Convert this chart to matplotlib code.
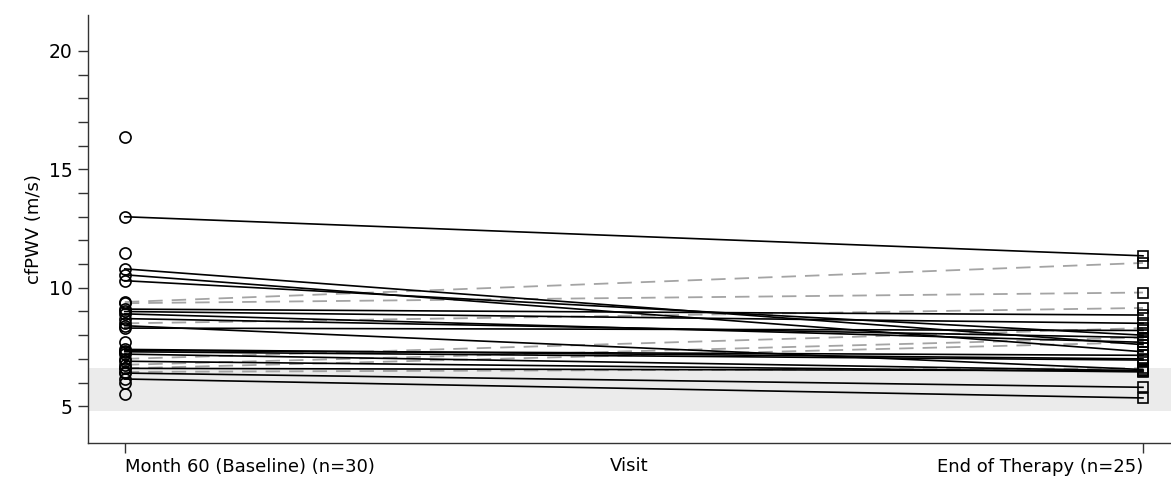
import matplotlib.pyplot as plt
import numpy as np

# cfPWV (m/s) per patient, baseline -> end of therapy (paired)
solid_base = [13.0, 10.8, 10.55, 10.3, 9.1, 9.0, 8.9, 8.7, 8.4, 8.3,
              7.4, 7.35, 7.3, 7.2, 6.9, 6.6, 6.4, 6.15]
solid_end = [11.35, 7.6, 7.3, 8.0, 8.85, 8.5, 7.7, 7.9, 6.55, 8.2,
             7.0, 7.15, 6.95, 6.5, 6.45, 6.5, 5.8, 5.35]
dashed_base = [9.4, 9.35, 8.5, 7.0, 6.75, 6.6, 6.45]
dashed_end = [11.05, 9.8, 9.15, 8.3, 7.9, 7.7, 6.6]
# baseline only (no end of therapy visit)
base_only = [16.35, 11.45, 7.7, 6.0, 5.5]

tick_labels = ['Month 60 (Baseline) (n=30)', 'End of Therapy (n=25)']
ref_band = (4.8, 6.6)


def main():
    plt.rcParams['font.family'] = ['DejaVu Sans']

    fig = plt.figure(figsize=(11.71, 4.82), dpi=100)
    ax = fig.add_axes([0.075, 0.081, 0.925, 0.888])

    ax.axhspan(ref_band[0], ref_band[1], color='#ebebeb', lw=0, zorder=0)

    for b, e in zip(dashed_base, dashed_end):
        ax.plot([0, 1], [b, e], color='#a4a4a4', lw=1.3, dashes=(8, 5), zorder=2)
    for b, e in zip(solid_base, solid_end):
        ax.plot([0, 1], [b, e], color='black', lw=1.2, zorder=3)

    all_base = solid_base + dashed_base + base_only
    all_end = solid_end + dashed_end
    ax.plot(np.zeros(len(all_base)), all_base, 'o', ms=8, mfc='none', mec='black',
            mew=1.2, zorder=4)
    ax.plot(np.ones(len(all_end)), all_end, 's', ms=7.5, mfc='none', mec='black',
            mew=1.2, zorder=4)

    ax.set_xlim(-0.0363, 1.0275)
    ax.set_ylim(3.45, 21.52)
    ax.set_xticks([0, 1])
    ax.set_xticklabels(tick_labels, fontsize=13)
    xt = ax.get_xticklabels()
    xt[0].set_ha('left')
    xt[1].set_ha('right')
    ax.set_yticks(range(5, 21))
    ax.set_yticklabels([str(v) if v % 5 == 0 else '' for v in range(5, 21)], fontsize=13.5)
    ax.tick_params(length=7.5, width=1, color='#333333')
    ax.set_ylabel('cfPWV (m/s)', fontsize=13)
    ax.set_xlabel('Visit', fontsize=13, labelpad=-14)

    for side in ['top', 'right']:
        ax.spines[side].set_visible(False)
    for side in ['left', 'bottom']:
        ax.spines[side].set_color('#333333')
        ax.spines[side].set_linewidth(1)

    plt.savefig('out.png', dpi=100)


if __name__ == "__main__":
    main()
